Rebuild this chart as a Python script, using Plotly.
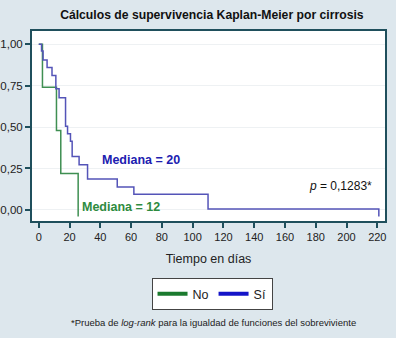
import plotly.graph_objects as go

# Data
no_time = [0, 2.4, 11.5, 14.3, 25.6]
no_surv = [1.0, 0.74, 0.48, 0.22, -0.04]
si_time = [0, 1.8, 2.8, 5.4, 8.6, 11.1, 13.2, 17.4, 18.7, 20.6, 21.7, 26.2, 31.7, 51.0, 61.8, 110.0, 221]
si_surv = [1.0, 0.959, 0.905, 0.859, 0.812, 0.732, 0.677, 0.505, 0.459, 0.414, 0.323, 0.273, 0.186, 0.138, 0.095, 0.006, -0.04]
x_ticks = [0, 20, 40, 60, 80, 100, 120, 140, 160, 180, 200, 220]
y_ticks = [0, 0.25, 0.5, 0.75, 1.0]
y_tick_text = ["0,00", "0,25", "0,50", "0,75", "1,00"]
legend_names = ["No", "Sí"]

FONT = "Liberation Sans, Arial, sans-serif"
BORDER = "#1f4f5c"
GREEN_LINE = "#3f8f52"
BLUE_LINE = "#5454b8"

fig = go.Figure()
fig.add_trace(go.Scatter(x=no_time, y=no_surv, mode="lines", line_shape="hv",
                         line=dict(color=GREEN_LINE, width=1.5), showlegend=False))
fig.add_trace(go.Scatter(x=si_time, y=si_surv, mode="lines", line_shape="hv",
                         line=dict(color=BLUE_LINE, width=1.5), showlegend=False))
# legend-only entries (thicker swatches as in the reference)
fig.add_trace(go.Scatter(x=[None], y=[None], mode="lines", name=legend_names[0],
                         line=dict(color="#1b7a2e", width=4)))
fig.add_trace(go.Scatter(x=[None], y=[None], mode="lines", name=legend_names[1],
                         line=dict(color="#1414c8", width=4)))

fig.update_layout(
    width=396, height=338,
    margin=dict(l=32, r=11, t=31, b=117, autoexpand=False),
    paper_bgcolor="#dde7ed",
    plot_bgcolor="#ffffff",
    font=dict(family=FONT, size=11.5, color="#222222"),
    title=dict(text="<b>Cálculos de supervivencia Kaplan-Meier por cirrosis</b>",
               x=0.535, xanchor="center", y=1 - 15 / 338, yref="container", yanchor="middle",
               font=dict(size=12.2, color="#111111")),
    showlegend=True,
    legend=dict(orientation="h", x=0.51, xanchor="center", y=-0.3, yanchor="top",
                bordercolor="#444444", borderwidth=1, bgcolor="#ffffff",
                font=dict(size=12.5), itemwidth=30, tracegroupgap=0),
)
fig.update_xaxes(range=[-4.4, 225], tickvals=x_ticks, ticks="outside", ticklen=5,
                 tickwidth=1.5, tickcolor=BORDER, showline=True, linecolor=BORDER,
                 linewidth=2, mirror=True, showgrid=False, zeroline=False,
                 automargin=False,
                 title=dict(text="Tiempo en días", font=dict(size=12.5), standoff=12),
                 tickfont=dict(size=11))
fig.update_yaxes(range=[-0.067, 1.08], tickvals=y_ticks, ticktext=y_tick_text,
                 ticks="outside", ticklen=5, tickwidth=1.5, tickcolor=BORDER,
                 showline=True, linecolor=BORDER, linewidth=2, mirror=True,
                 showgrid=True, gridcolor="#eef1f3", gridwidth=1, zeroline=False,
                 automargin=False, tickfont=dict(size=11.5))

fig.add_annotation(x=40, y=0.30, xref="x", yref="y", text="<b>Mediana = 20</b>",
                   showarrow=False, xanchor="left", yanchor="middle",
                   font=dict(size=12.5, color="#2020b0"))
fig.add_annotation(x=27, y=0.015, xref="x", yref="y", text="<b>Mediana = 12</b>",
                   showarrow=False, xanchor="left", yanchor="middle",
                   font=dict(size=12.5, color="#2e8b40"))
fig.add_annotation(x=218, y=0.145, xref="x", yref="y", text="<i>p</i> = 0,1283*",
                   showarrow=False, xanchor="right", yanchor="middle",
                   font=dict(size=12, color="#111111"))
fig.add_annotation(x=0.515, y=-0.535, xref="paper", yref="paper",
                   text="*Prueba de <i>log-rank</i> para la igualdad de funciones del sobreviviente",
                   showarrow=False, xanchor="center", yanchor="middle",
                   font=dict(size=9.5, color="#222222"))

fig.write_html("out.html", config={"displayModeBar": False},
               post_script="document.body.style.margin='0';document.body.style.overflow='hidden';")
